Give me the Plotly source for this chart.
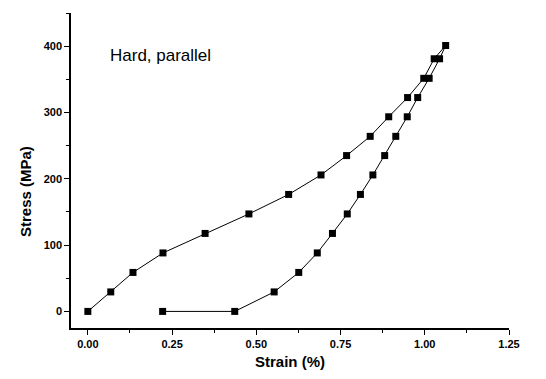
import plotly.graph_objects as go

# Loading branch
load_strain = [0.0, 0.068, 0.134, 0.223, 0.348, 0.478, 0.596, 0.692, 0.768, 0.838, 0.893, 0.949, 0.997, 1.028, 1.062]
load_stress = [0, 29.4, 58.8, 88.2, 117.6, 147, 176.4, 205.8, 235, 264, 293.5, 322.5, 351.5, 381, 401]
# Unloading branch
unload_strain = [1.062, 1.044, 1.013, 0.979, 0.948, 0.914, 0.881, 0.846, 0.809, 0.770, 0.726, 0.681, 0.626, 0.553, 0.436, 0.222]
unload_stress = [401, 381, 351.5, 322.5, 293.5, 264, 235, 205.8, 176.4, 147, 117.6, 88.2, 58.8, 29.4, 0, 0]

x_ticks = [0.0, 0.25, 0.5, 0.75, 1.0, 1.25]
x_labels = ["0.00", "0.25", "0.50", "0.75", "1.00", "1.25"]
y_ticks = [0, 100, 200, 300, 400]

font = "Liberation Sans, Arial, sans-serif"

fig = go.Figure()
fig.add_trace(go.Scatter(
    x=load_strain + unload_strain[1:], y=load_stress + unload_stress[1:],
    mode="lines+markers",
    line=dict(color="black", width=1),
    marker=dict(symbol="square", size=7, color="black"),
    showlegend=False,
))

fig.add_annotation(x=0.06, y=386, xref="x", yref="y", text="Hard, parallel",
                   showarrow=False, xanchor="left", yanchor="middle",
                   font=dict(family=font, size=17, color="black"))

fig.add_annotation(x=0, y=180, xref="paper", yref="y", xshift=-46,
                   text="<b>Stress (MPa)</b>", textangle=-90, showarrow=False,
                   xanchor="center", yanchor="middle",
                   font=dict(family=font, size=15, color="black"))

fig.update_layout(
    width=546, height=379,
    margin=dict(l=71, r=37, t=13, b=51),
    plot_bgcolor="white", paper_bgcolor="white",
    font=dict(family=font, color="black"),
)
fig.update_xaxes(
    range=[-0.05, 1.25], showgrid=False, zeroline=False,
    showline=True, linecolor="black", linewidth=1.5,
    ticks="outside", ticklen=5, tickwidth=1.2, tickcolor="black",
    tickvals=x_ticks, ticktext=x_labels,
    tickfont=dict(family=font, size=11, color="black", weight="bold"),
    minor=dict(ticks="outside", ticklen=3, tickwidth=1, tickcolor="black", dtick=0.125, tick0=0),
    title=dict(text="<b>Strain (%)</b>", font=dict(family=font, size=15, color="black"), standoff=8),
)
fig.update_yaxes(
    range=[-25, 450], showgrid=False, zeroline=False,
    showline=True, linecolor="black", linewidth=1.5,
    ticks="outside", ticklen=5, tickwidth=1.2, tickcolor="black",
    tickvals=y_ticks,
    tickfont=dict(family=font, size=11, color="black", weight="bold"),
    minor=dict(ticks="outside", ticklen=3, tickwidth=1, tickcolor="black", dtick=50, tick0=0),
)

fig.write_html("out.html")
